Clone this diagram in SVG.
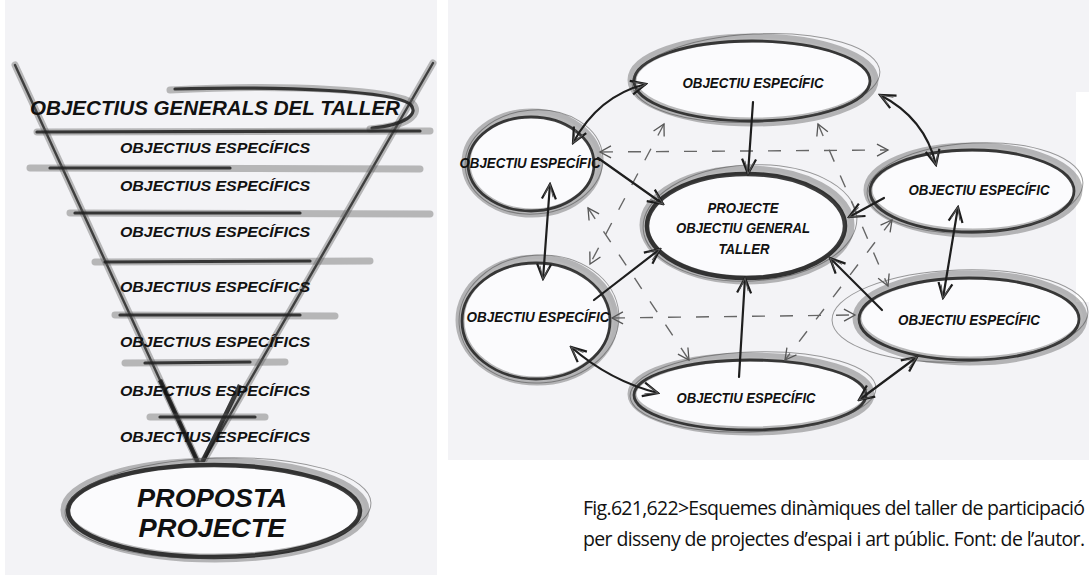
<svg xmlns="http://www.w3.org/2000/svg" width="1089" height="575" viewBox="0 0 1089 575">
<defs>
<marker id="ah" viewBox="0 0 18 18" refX="16" refY="9" markerWidth="18" markerHeight="18" markerUnits="userSpaceOnUse" orient="auto-start-reverse">
<path d="M1,2 L16,9 L1,16" fill="none" stroke="#1c1c1c" stroke-width="2.2"/>
<path d="M4,4 L16,9 L3,13" fill="none" stroke="#555" stroke-width="1"/>
</marker>
<marker id="ahd" viewBox="0 0 14 14" refX="12" refY="7" markerWidth="14" markerHeight="14" markerUnits="userSpaceOnUse" orient="auto-start-reverse">
<path d="M1,1 L12,7 L1,13" fill="none" stroke="#555" stroke-width="1.3"/>
</marker>
</defs>
<style>
.bg{fill:#f3f3f6}
.soft{fill:#fbfbfd;stroke:#5a5a5a;stroke-width:9;stroke-opacity:.42}
.dark{fill:none;stroke:#1f1f1f;stroke-width:2.8;stroke-opacity:.85}
.thin{fill:none;stroke:#4a4a4a;stroke-width:1;stroke-opacity:.55}
.heavy{fill:none;stroke:#1a1a1a;stroke-width:4.5;stroke-opacity:.85}
.lbl{font-family:"Liberation Sans",Arial,sans-serif;font-weight:bold;font-style:italic;fill:#111;text-anchor:middle}
.ttl{font-family:"Liberation Sans",Arial,sans-serif;font-weight:bold;font-style:italic;fill:#111}
.conn{fill:none;stroke:#1e1e1e;stroke-width:2.2;stroke-linecap:round}
.dash{fill:none;stroke:#666;stroke-width:1.4;stroke-dasharray:13 15}
.hs{fill:none;stroke:#5a5a5a;stroke-width:7;stroke-opacity:.4;stroke-linecap:round}
.hd{fill:none;stroke:#1e1e1e;stroke-width:3.2;stroke-opacity:.85;stroke-linecap:round}
.fl{fill:none;stroke:#2a2a2a;stroke-width:2.4;stroke-opacity:.85;stroke-linecap:round}
.cap{font-family:"Open Sans","Liberation Sans",sans-serif;font-size:19.5px;fill:#111}
</style>

<!-- panels -->
<rect class="bg" x="5" y="0" width="432" height="575"/>
<rect class="bg" x="448" y="0" width="641" height="460"/>
<rect x="1076" y="92" width="13" height="210" fill="#ffffff"/>

<!-- LEFT: funnel -->
<g id="funnel">
<path class="hs" d="M15,65 L200,467"/>
<path class="fl" d="M15,65 L200,467"/>
<path class="hs" d="M433,63 L200,467"/>
<path class="fl" d="M433,63 L200,467"/>
<path class="heavy" d="M160,380 L200,467 L240,385"/>
<path class="thin" d="M200,467 L188,482 M200,467 L212,484 M200,467 L200,486"/>
</g>

<g id="general">
<path class="hs" d="M170,90 C290,84 395,90 412,103 C423,114 408,126 370,129"/>
<path class="hd" d="M175,89 C290,86 392,91 410,104 C420,114 405,125 372,128"/>
<path class="hs" d="M37,132 L430,131"/>
<path class="hd" d="M37,132 L420,131"/>
<text class="ttl" x="30" y="115" font-size="21" textLength="370" lengthAdjust="spacingAndGlyphs">OBJECTIUS GENERALS DEL TALLER</text>
</g>

<g id="esp1">
<text class="lbl" x="215" y="153" font-size="15.5" textLength="190" lengthAdjust="spacingAndGlyphs">OBJECTIUS ESPECÍFICS</text>
<path class="hs" d="M30,168 L420,169"/>
<path class="hd" d="M50,168 L230,168"/>
</g>
<g id="esp2">
<text class="lbl" x="215" y="191" font-size="15.5" textLength="190" lengthAdjust="spacingAndGlyphs">OBJECTIUS ESPECÍFICS</text>
<path class="hs" d="M70,213 L430,214"/>
<path class="hd" d="M75,213 L300,213"/>
</g>
<g id="esp3">
<text class="lbl" x="215" y="237" font-size="15.5" textLength="190" lengthAdjust="spacingAndGlyphs">OBJECTIUS ESPECÍFICS</text>
<path class="hs" d="M95,262 L370,261"/>
<path class="hd" d="M105,262 L310,261"/>
</g>
<g id="esp4">
<text class="lbl" x="215" y="292" font-size="15.5" textLength="190" lengthAdjust="spacingAndGlyphs">OBJECTIUS ESPECÍFICS</text>
<path class="hs" d="M115,315 L335,316"/>
<path class="hd" d="M120,315 L300,315"/>
</g>
<g id="esp5">
<text class="lbl" x="215" y="347" font-size="15.5" textLength="190" lengthAdjust="spacingAndGlyphs">OBJECTIUS ESPECÍFICS</text>
<path class="hs" d="M125,363 L285,362"/>
<path class="hd" d="M145,363 L250,362"/>
</g>
<g id="esp6">
<text class="lbl" x="215" y="396" font-size="15.5" textLength="190" lengthAdjust="spacingAndGlyphs">OBJECTIUS ESPECÍFICS</text>
<path class="hs" d="M150,417 L265,417"/>
<path class="hd" d="M160,417 L255,417"/>
</g>
<g id="esp7">
<text class="lbl" x="215" y="442" font-size="15.5" textLength="190" lengthAdjust="spacingAndGlyphs">OBJECTIUS ESPECÍFICS</text>
</g>

<g id="proposta">
<ellipse class="soft" cx="215" cy="510" rx="150" ry="48"/>
<ellipse class="heavy" cx="214" cy="511" rx="146" ry="46"/>
<ellipse class="thin" cx="218" cy="508" rx="153" ry="50" transform="rotate(-2 218 508)"/>
<text class="lbl" x="212" y="507" font-size="26" textLength="150" lengthAdjust="spacingAndGlyphs">PROPOSTA</text>
<text class="lbl" x="212" y="537" font-size="26" textLength="147" lengthAdjust="spacingAndGlyphs">PROJECTE</text>
</g>

<!-- RIGHT: network nodes -->
<g id="n-top">
<ellipse class="soft" cx="753" cy="80" rx="121" ry="42"/>
<ellipse class="dark" cx="752" cy="81" rx="118" ry="40"/>
<ellipse class="thin" cx="756" cy="78" rx="124" ry="44" transform="rotate(-3 756 78)"/>
<text class="lbl" x="753" y="88" font-size="15" textLength="141" lengthAdjust="spacingAndGlyphs">OBJECTIU ESPECÍFIC</text>
</g>

<g id="n-left">
<ellipse class="soft" cx="532" cy="163" rx="66" ry="50"/>
<ellipse class="dark" cx="531" cy="164" rx="63" ry="47"/>
<ellipse class="thin" cx="534" cy="162" rx="69" ry="52" transform="rotate(-5 534 162)"/>
<text class="lbl" x="530" y="168" font-size="15" textLength="141" lengthAdjust="spacingAndGlyphs">OBJECTIU ESPECÍFIC</text>
</g>

<g id="n-center">
<ellipse class="soft" cx="747" cy="225" rx="103" ry="55"/>
<ellipse class="heavy" cx="746" cy="226" rx="99" ry="52"/>
<ellipse class="thin" cx="750" cy="223" rx="107" ry="58" transform="rotate(-3 750 223)"/>
<text class="lbl" x="743" y="213" font-size="15" textLength="71" lengthAdjust="spacingAndGlyphs">PROJECTE</text>
<text class="lbl" x="743" y="233" font-size="15" textLength="134" lengthAdjust="spacingAndGlyphs">OBJECTIU GENERAL</text>
<text class="lbl" x="744" y="254" font-size="15" textLength="51" lengthAdjust="spacingAndGlyphs">TALLER</text>
</g>

<g id="n-right">
<ellipse class="soft" cx="973" cy="190" rx="105" ry="43"/>
<ellipse class="dark" cx="972" cy="191" rx="102" ry="41"/>
<ellipse class="thin" cx="975" cy="188" rx="108" ry="45" transform="rotate(-3 975 188)"/>
<text class="lbl" x="979" y="195" font-size="15" textLength="141" lengthAdjust="spacingAndGlyphs">OBJECTIU ESPECÍFIC</text>
</g>

<g id="n-lowleft">
<ellipse class="soft" cx="537" cy="320" rx="77" ry="61"/>
<ellipse class="dark" cx="536" cy="321" rx="74" ry="58"/>
<ellipse class="thin" cx="539" cy="319" rx="80" ry="64" transform="rotate(-4 539 319)"/>
<text class="lbl" x="538" y="322" font-size="15" textLength="143" lengthAdjust="spacingAndGlyphs">OBJECTIU ESPECÍFIC</text>
</g>

<g id="n-lowright">
<ellipse class="soft" cx="970" cy="318" rx="113" ry="43"/>
<ellipse class="dark" cx="969" cy="319" rx="110" ry="41"/>
<ellipse class="thin" cx="960" cy="316" rx="128" ry="46" transform="rotate(-2 960 316)"/>
<text class="lbl" x="969" y="325" font-size="15" textLength="142" lengthAdjust="spacingAndGlyphs">OBJECTIU ESPECÍFIC</text>
</g>

<g id="n-bottom">
<ellipse class="soft" cx="751" cy="394" rx="119" ry="37"/>
<ellipse class="dark" cx="750" cy="395" rx="116" ry="35"/>
<ellipse class="thin" cx="753" cy="392" rx="123" ry="40" transform="rotate(-2 753 392)"/>
<text class="lbl" x="746" y="403" font-size="15" textLength="139" lengthAdjust="spacingAndGlyphs">OBJECTIU ESPECÍFIC</text>
</g>

<!-- connectors drawn over the node outlines -->
<g id="connectors">
<path class="dash" d="M600,152 L888,150" marker-start="url(#ahd)" marker-end="url(#ahd)"/>
<path class="dash" d="M612,318 L855,315" marker-start="url(#ahd)" marker-end="url(#ahd)"/>
<path class="dash" d="M664,124 L590,264" marker-start="url(#ahd)" marker-end="url(#ahd)"/>
<path class="dash" d="M818,124 L888,286" marker-start="url(#ahd)" marker-end="url(#ahd)"/>
<path class="dash" d="M588,208 L689,360" marker-start="url(#ahd)" marker-end="url(#ahd)"/>
<path class="dash" d="M892,220 L785,360" marker-start="url(#ahd)" marker-end="url(#ahd)"/>

<path class="conn" d="M753,102 L748,174" marker-end="url(#ah)"/>
<path class="conn" d="M646,84 Q598,96 573,143" marker-start="url(#ah)" marker-end="url(#ah)"/>
<path class="conn" d="M880,95 Q925,118 936,165" marker-start="url(#ah)" marker-end="url(#ah)"/>
<path class="conn" d="M598,158 L663,204" marker-end="url(#ah)"/>
<path class="conn" d="M884,198 L849,217" marker-end="url(#ah)"/>
<path class="conn" d="M550,184 L543,279" marker-start="url(#ah)" marker-end="url(#ah)"/>
<path class="conn" d="M958,207 L943,298" marker-start="url(#ah)" marker-end="url(#ah)"/>
<path class="conn" d="M594,300 L660,249" marker-end="url(#ah)"/>
<path class="conn" d="M882,310 L830,258" marker-end="url(#ah)"/>
<path class="conn" d="M739,377 L745,278" marker-end="url(#ah)"/>
<path class="conn" d="M571,347 Q610,381 658,393" marker-start="url(#ah)" marker-end="url(#ah)"/>
<path class="conn" d="M859,400 L917,357" marker-start="url(#ah)" marker-end="url(#ah)"/>
</g>

<g id="caption">
<text class="cap" x="583" y="515" textLength="502" lengthAdjust="spacing">Fig.621,622&gt;Esquemes dinàmiques del taller de participació</text>
<text class="cap" x="583" y="546" textLength="502" lengthAdjust="spacing">per disseny de projectes  d’espai i art públic. Font: de l’autor.</text>
</g>
</svg>
